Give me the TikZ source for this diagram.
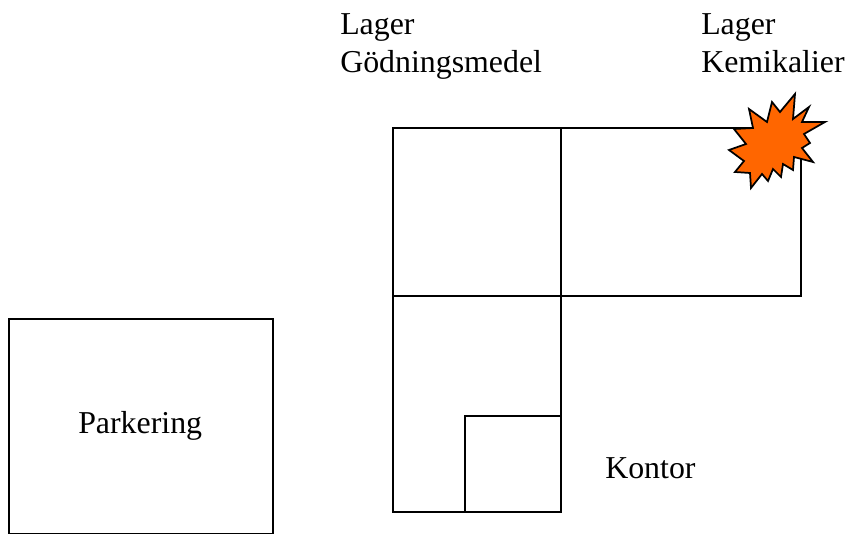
\documentclass[tikz,border=0pt]{standalone}
\usepackage{fontspec}
\setmainfont{Liberation Serif}
\definecolor{burst}{RGB}{255,102,0}
\tikzset{px/.style={x=0.75pt,y=-0.75pt},room/.style={draw=black,line width=1.1pt},lab/.style={anchor=base west,inner sep=0pt,font=\fontsize{23.9pt}{28pt}\selectfont}}
\begin{document}
\begin{tikzpicture}[px]
\useasboundingbox (0,0) rectangle (851,534);
\draw[room] (9,319) rectangle (273,534);
\draw[room] (393,128) rectangle (561,296);
\draw[room] (561,128) -- (801,128) -- (801,296) -- (561,296);
\draw[room] (393,296) rectangle (561,512);
\draw[room] (465,416) rectangle (561,512);
\draw[room,line width=1.3pt,fill=burst,line join=miter] (795,94) -- (793,119) -- (809,107) -- (802,122) -- (825,122) -- (804,134) -- (810,143) -- (802,148) -- (813,162) -- (794,157) -- (793,170) -- (783,164) -- (781,177) -- (773,169) -- (768,181) -- (762,174) -- (751,188) -- (750,173) -- (735,172) -- (744,161) -- (729,150) -- (746,144) -- (734,129) -- (753,128) -- (749,109) -- (767,122) -- (772,102) -- (780,112) -- cycle;
\node[lab] (a) at (340,35) {Lager};
\node[lab] (b) at (340,73) {Gödningsmedel};
\node[lab] (c) at (701,35) {Lager};
\node[lab] (d) at (701,73) {Kemikalier};
\node[lab] (e) at (78,434) {Parkering};
\node[lab] (f) at (605,479) {Kontor};
\end{tikzpicture}
\end{document}
